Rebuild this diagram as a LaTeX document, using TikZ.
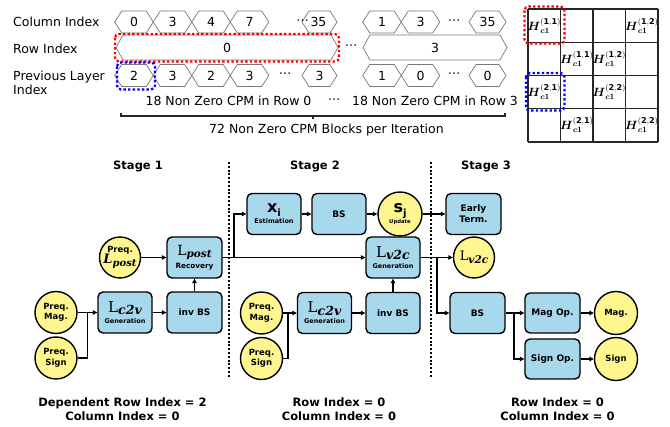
\documentclass[tikz,border=0pt]{standalone}
\usepackage{fontspec}
\setmainfont{DejaVu Sans}
\newfontfamily\serifm{DejaVu Serif}
\usepackage{amsmath}
\usetikzlibrary{arrows.meta}
\definecolor{boxblue}{RGB}{168,216,236}
\definecolor{circyellow}{RGB}{255,246,143}
\definecolor{hexgray}{RGB}{120,120,120}
\newcommand{\Lup}[3]{{\serifm\mdseries\upshape\fontsize{#1}{#1}\selectfont L}\raisebox{-0.28em}{\serifm\bfseries\itshape\fontsize{#2}{#2}\selectfont #3}}
\newcommand{\Lit}[3]{{\serifm\bfseries\itshape\fontsize{#1}{#1}\selectfont L}\raisebox{-0.28em}{\serifm\bfseries\itshape\fontsize{#2}{#2}\selectfont #3}}
\newcommand{\Hc}[1]{$\boldsymbol{H}_{\boldsymbol{c1}}^{\mathbf{(#1)}}$}
\newcommand{\hexc}[6]{%
  \draw[hexline] ({#2-#4},#3) -- ({#2-#4+7},{#3-#5}) -- ({#2+#4-7},{#3-#5}) -- ({#2+#4},#3) -- ({#2+#4-7},{#3+#5}) -- ({#2-#4+7},{#3+#5}) -- cycle;
  \node[lab] (#1) at (#2,#3) {#6};}
\tikzset{
  lab/.style={font=\fontsize{12.5}{15}\selectfont, inner sep=0pt},
  hexline/.style={draw=hexgray, line width=0.7pt},
  gridl/.style={draw=black!85, line width=1.1pt},
  box/.style={draw, line width=1.4pt, rounded corners=5pt, fill=boxblue, minimum width=54pt, minimum height=41pt, inner sep=0pt, align=center, font=\bfseries\fontsize{9}{11}\selectfont},
  circ/.style={circle, draw, line width=1.4pt, fill=circyellow, minimum size=42pt, inner sep=0pt, align=center, font=\bfseries\fontsize{8.5}{10.5}\selectfont},
  arr/.style={-{Triangle[length=4.5pt,width=4.5pt]}, line width=1.3pt},
  conn/.style={line width=1.3pt},
  sepline/.style={line width=2.2pt, dash pattern=on 2pt off 1.8pt},
  reddot/.style={draw=red, line width=2.3pt, dash pattern=on 2.4pt off 2.2pt, rounded corners=4pt},
  bluedot/.style={draw=blue, line width=2.3pt, dash pattern=on 2.4pt off 2.2pt, rounded corners=4pt},
  stagelab/.style={font=\bfseries\fontsize{11.5}{14}\selectfont, inner sep=0pt, align=center},
  celltext/.style={font=\fontsize{11.5}{11.5}\selectfont, inner sep=0pt},
}
\begin{document}
\begin{tikzpicture}[x=1pt,y=-1pt]
\fill[white] (0,0) rectangle (670,427);
\useasboundingbox (0,0) rectangle (670,427);

% ---------- top left labels
\node[lab, anchor=west] (lcol) at (13,22) {Column Index};
\node[lab, anchor=west] (lrow) at (13,48.5) {Row Index};
\node[lab, anchor=west, align=left, font=\fontsize{12.5}{14.5}\selectfont] (lprev) at (13,83) {Previous Layer\\Index};

% ---------- column index hexes
\hexc{c1}{134}{22}{19.25}{11}{0}
\hexc{c2}{172.5}{22}{19.25}{11}{3}
\hexc{c3}{211}{22}{19.25}{11}{4}
\hexc{c4}{249.5}{22}{19.25}{11}{7}
\hexc{c5}{319.5}{22}{17.5}{11}{}
\node[lab] (c5d) at (302.5,22) {⋯};
\node[lab] (c5t) at (318.5,22) {35};
\hexc{c6}{382}{22}{19.25}{11}{1}
\hexc{c7}{420.5}{22}{19.25}{11}{3}
\node[lab] (c7d) at (454,22) {⋯};
\hexc{c8}{487.5}{22}{18.5}{11}{35}

% ---------- row index hexes
\hexc{r1}{227}{47.5}{111}{12.5}{0}
\node[lab] (rd) at (351,47.5) {⋯};
\hexc{r2}{435}{47.5}{72}{12.5}{3}
\draw[reddot] (115,34) rectangle (339,61.5);

% ---------- previous layer hexes
\hexc{p1}{134}{75.5}{19.25}{11}{2}
\hexc{p2}{172.5}{75.5}{19.25}{11}{3}
\hexc{p3}{211}{75.5}{19.25}{11}{2}
\hexc{p4}{249.5}{75.5}{19.25}{11}{3}
\node[lab] (pd) at (285,75.5) {⋯};
\hexc{p5}{319.5}{75.5}{17.5}{11}{3}
\hexc{p6}{382}{75.5}{19.25}{11}{1}
\hexc{p7}{420.5}{75.5}{19.25}{11}{0}
\node[lab] (p7d) at (454,75.5) {⋯};
\hexc{p8}{487.5}{75.5}{18.5}{11}{0}
\draw[bluedot] (117,62.5) rectangle (155,89.5);

% ---------- counts and brace
\node[lab] (n0) at (228.5,101) {18 Non Zero CPM in Row 0};
\node[lab] (nd) at (334,101) {⋯};
\node[lab] (n3) at (435,101) {18 Non Zero CPM in Row 3};
\draw[line width=1.3pt, black!85] (121,113) -- (121,116) -- (505,116) -- (505,113);
\draw[line width=1.3pt, black!85] (313,116) -- (313,119);
\node[lab] (tot) at (326.5,130) {72 Non Zero CPM Blocks per Iteration};

% ---------- matrix
\foreach \i in {0,...,4} {
  \draw[gridl] ({528+32.5*\i},9) -- ({528+32.5*\i},142);
  \draw[gridl] (528,{9+33.25*\i}) -- (658,{9+33.25*\i});
}
\node[celltext] (h11a) at (544.25,25.6) {\Hc{1,1}};
\node[celltext] (h12a) at (641.75,25.6) {\Hc{1,2}};
\node[celltext] (h11b) at (576.75,58.9) {\Hc{1,1}};
\node[celltext] (h12b) at (609.25,58.9) {\Hc{1,2}};
\node[celltext] (h21a) at (544.25,92.1) {\Hc{2,1}};
\node[celltext] (h22a) at (609.25,92.1) {\Hc{2,2}};
\node[celltext] (h21b) at (576.75,125.4) {\Hc{2,1}};
\node[celltext] (h22b) at (641.75,125.4) {\Hc{2,2}};
\draw[reddot] (524.5,6.5) rectangle (564.5,43.5);
\draw[bluedot] (526,73) rectangle (564.5,110.5);

% ---------- stage labels and separators
\node[stagelab] (s1) at (138,166) {Stage 1};
\node[stagelab] (s2) at (315,166) {Stage 2};
\node[stagelab] (s3) at (486,166) {Stage 3};
\coordinate (sep1t) at (229,162); \coordinate (sep1b) at (229,378);
\coordinate (sep2t) at (431,162); \coordinate (sep2b) at (431,378);
\draw[sepline] (sep1t) -- (sep1b);
\draw[sepline] (sep2t) -- (sep2b);

% ---------- stage 1
\node[circ, minimum size=41pt] (pLpost) at (120,257.5) {Preq.\\[-1pt]\Lit{13}{10}{post}};
\node[box, minimum width=55pt] (Lrec) at (194.5,257.5) {\Lup{14}{10.5}{post}\\[2pt]{\fontsize{7.3}{8}\selectfont Recovery}};
\node[circ] (pmag1) at (56,312.5) {Preq.\\Mag.};
\node[circ] (psign1) at (56,358) {Preq.\\Sign};
\node[box] (lc2v1) at (125,312.5) {\Lup{15}{12.5}{c2v}\\[0pt]{\fontsize{6.5}{7}\selectfont Generation}};
\node[box, minimum width=55pt] (invbs1) at (194.5,312.5) {inv BS};

% ---------- stage 2
\node[box] (xi) at (274,214) {{\fontsize{16}{16}\selectfont x\raisebox{-0.25em}{\fontsize{10}{10}\selectfont i}}\\[0pt]{\fontsize{6.5}{7}\selectfont Estimation}};
\node[box] (bs1) at (339,214) {BS};
\node[circ, minimum size=44pt] (sj) at (400,214) {{\fontsize{16}{16}\selectfont s\raisebox{-0.25em}{\fontsize{10}{10}\selectfont j}}\\[1pt]{\fontsize{5.3}{6}\selectfont Update}};
\node[box] (lv2cgen) at (393,257.5) {\Lup{15}{12.5}{v2c}\\[0pt]{\fontsize{6.5}{7}\selectfont Generation}};
\node[circ] (pmag2) at (261.5,313) {Preq.\\Mag.};
\node[circ] (psign2) at (261.5,358.5) {Preq.\\Sign};
\node[box] (lc2v2) at (324.5,313) {\Lup{15}{12.5}{c2v}\\[0pt]{\fontsize{6.5}{7}\selectfont Generation}};
\node[box] (invbs2) at (393,313) {inv BS};

% ---------- stage 3
\node[box, minimum width=55pt] (early) at (473.5,214) {Early\\Term.};
\node[circ, minimum size=41pt] (lv2cc) at (474,257.5) {\Lup{13}{10.5}{v2c}};
\node[box, minimum width=55pt] (bs3) at (477.5,313) {BS};
\node[box, minimum width=55pt, minimum height=40pt] (magop) at (552.5,313) {Mag Op.};
\node[box, minimum width=55pt, minimum height=40pt] (signop) at (552.5,359) {Sign Op.};
\node[circ, minimum size=43pt] (mag) at (616,313) {Mag.};
\node[circ, minimum size=43pt] (sign) at (616,359) {Sign};

% ---------- connectors
\draw[arr] (pLpost) -- (Lrec);
\draw[arr] (invbs1) -- (Lrec);
\draw[arr] (pmag1) -- (lc2v1);
\coordinate (j1) at (87.5,312.5);
\draw[conn] (psign1) -| (j1);
\draw[arr] (lc2v1) -- (invbs1);

\draw[arr] (Lrec) -- (lv2cgen);
\coordinate (j2) at (234,257.5);
\draw[arr] (j2) |- (xi.west);
\draw[arr] (xi) -- (bs1);
\draw[arr] (bs1) -- (sj);
\draw[arr] (sj) -- (early);
\draw[arr] (invbs2) -- (lv2cgen);
\draw[arr] (pmag2) -- (lc2v2);
\coordinate (j3) at (288,313);
\draw[conn] (psign2) -| (j3);
\draw[arr] (lc2v2) -- (invbs2);

\draw[arr] (lv2cgen) -- (lv2cc);
\coordinate (j4) at (437,257.5);
\draw[arr] (j4) |- (bs3.west);
\draw[arr] (bs3) -- (magop);
\coordinate (j5) at (514,313);
\draw[arr] (j5) |- (signop.west);
\draw[arr] (magop) -- (mag);
\draw[arr] (signop) -- (sign);

% ---------- bottom captions
\node[stagelab] (cap1) at (122.5,409.5) {Dependent Row Index = 2\\Column Index = 0};
\node[stagelab] (cap2) at (339,409.5) {Row Index = 0\\Column Index = 0};
\node[stagelab] (cap3) at (557.5,409.5) {Row Index = 0\\Column Index = 0};
\end{tikzpicture}
\end{document}
